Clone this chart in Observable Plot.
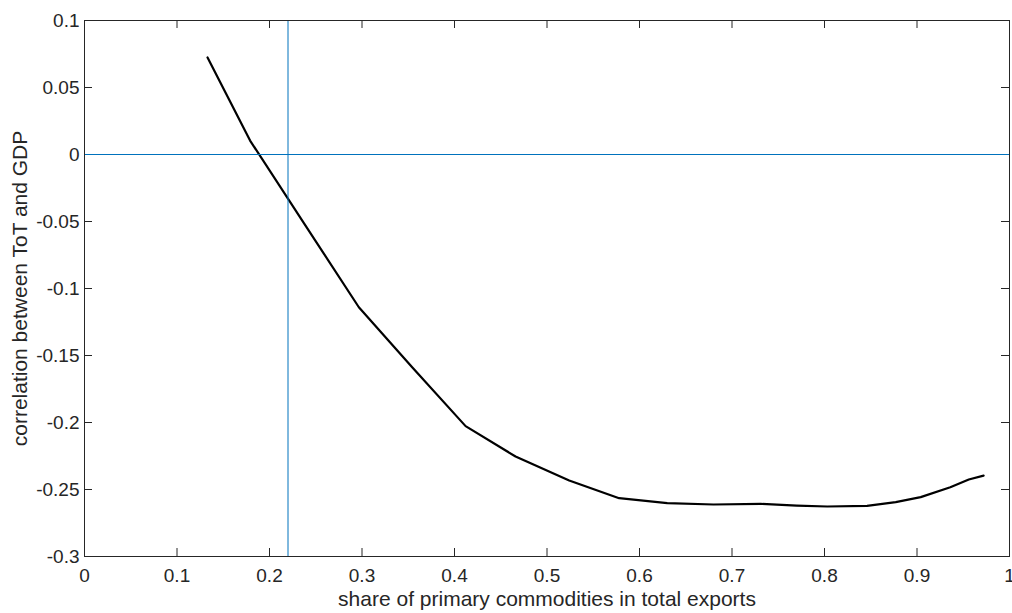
<!DOCTYPE html>
<html>
<head>
<meta charset="utf-8">
<script src="https://cdn.jsdelivr.net/npm/d3@7"></script>
<script src="https://cdn.jsdelivr.net/npm/@observablehq/plot@0.6"></script>
<style>
  html, body { margin: 0; padding: 0; background: #fff; }
</style>
</head>
<body>
<div id="chart"></div>
<script>
const shareX = [0.133, 0.179, 0.237, 0.2966, 0.354, 0.412, 0.466, 0.524, 0.578, 0.63, 0.68, 0.731, 0.77, 0.803, 0.846, 0.877, 0.904, 0.936, 0.956, 0.972];
const corrY = [0.0724, 0.0104, -0.051, -0.114, -0.1586, -0.2027, -0.2254, -0.2433, -0.2565, -0.2602, -0.2612, -0.2607, -0.262, -0.2627, -0.2622, -0.2594, -0.2557, -0.2483, -0.2425, -0.2396];
const xTicks = [0, 0.1, 0.2, 0.3, 0.4, 0.5, 0.6, 0.7, 0.8, 0.9, 1];
const yTicks = [-0.3, -0.25, -0.2, -0.15, -0.1, -0.05, 0, 0.05, 0.1];
const vLine = [0.22];
const hLine = [0];
const xLabel = "share of primary commodities in total exports";
const yLabel = "correlation between ToT and GDP";

const data = shareX.map((x, i) => ({x, y: corrY[i]}));
const fmt = d => String(+d.toFixed(2));
const ink = "#262626";
const blue = "#0072BD";

const W = 1012, H = 613;
const mL = 84, mR = 3, mT = 20, mB = 57;
const fw = W - mL - mR, fh = H - mT - mB;
const tl = 8;

const chart = Plot.plot({
  width: W,
  height: H,
  marginLeft: mL,
  marginRight: mR,
  marginTop: mT,
  marginBottom: mB,
  style: {fontFamily: "'Liberation Sans', Arial, Helvetica, sans-serif", fontSize: "19px", color: ink, background: "#fff", overflow: "visible"},
  x: {domain: [0, 1]},
  y: {domain: [-0.3, 0.1]},
  marks: [
    Plot.axisX(xTicks, {tickSize: 0, tickPadding: 12, tickFormat: fmt, label: null, fill: ink}),
    Plot.axisY(yTicks, {tickSize: 0, tickPadding: 5, tickFormat: fmt, label: null, fill: ink}),
    Plot.tickX(xTicks, {x: d => d, insetTop: fh - tl, stroke: ink, strokeWidth: 1}),
    Plot.tickX(xTicks, {x: d => d, insetBottom: fh - tl, stroke: ink, strokeWidth: 1}),
    Plot.tickY(yTicks, {y: d => d, insetRight: fw - tl, stroke: ink, strokeWidth: 1}),
    Plot.tickY(yTicks, {y: d => d, insetLeft: fw - tl, stroke: ink, strokeWidth: 1}),
    Plot.line(data, {x: "x", y: "y", stroke: "#000", strokeWidth: 2.2}),
    Plot.ruleX(vLine, {stroke: blue, strokeWidth: 1}),
    Plot.ruleY(hLine, {stroke: blue, strokeWidth: 1}),
    Plot.frame({stroke: ink, strokeWidth: 1}),
    Plot.text([xLabel], {text: d => d, frameAnchor: "bottom", dy: 43, textAnchor: "middle", lineAnchor: "middle", fontSize: 21, fill: ink}),
    Plot.text([yLabel], {text: d => d, frameAnchor: "left", dx: -64, rotate: -90, textAnchor: "middle", lineAnchor: "middle", fontSize: 21, fill: ink})
  ]
});
document.getElementById("chart").appendChild(chart);
</script>
</body>
</html>
